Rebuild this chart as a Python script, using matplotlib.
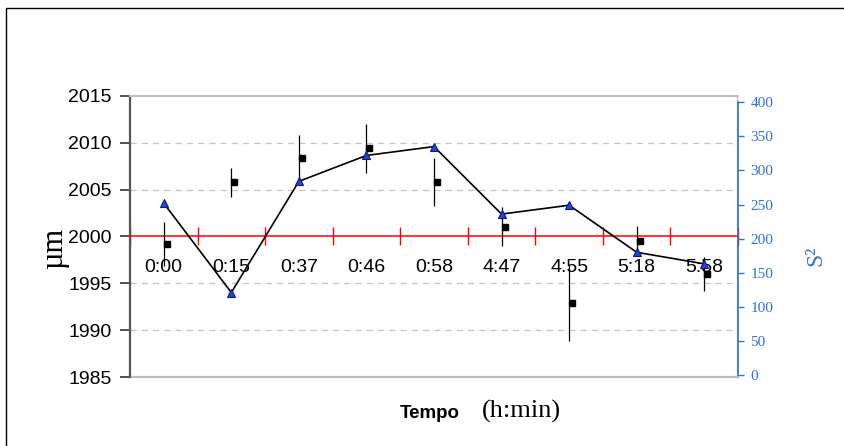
import numpy as np
import matplotlib
matplotlib.use('Agg')
import matplotlib.pyplot as plt
import matplotlib.patches as patches

# Data
times = ['0:00', '0:15', '0:37', '0:46', '0:58', '4:47', '4:55', '5:18', '5:58']
mean_um = [1999.2, 2005.8, 2008.4, 2009.4, 2005.8, 2001.05, 1992.9, 1999.5, 1996.0]
err_um = [2.4, 1.55, 2.4, 2.6, 2.55, 2.1, 4.1, 1.6, 1.8]
variance_s2 = [252, 121, 284, 322, 335, 236, 249, 180, 163]
left_ticks = [1985, 1990, 1995, 2000, 2005, 2010, 2015]
right_ticks = [0, 50, 100, 150, 200, 250, 300, 350, 400]

SANS = 'Liberation Sans'
SERIF = 'Liberation Serif'
BLUE_AX = '#2f72d0'
GRID_GRAY = '#c4c4c4'

fig = plt.figure(figsize=(8.45, 4.46), dpi=100)
ax = fig.add_axes([0.1538, 0.1547, 0.7196, 0.6301])
ax2 = ax.twinx()

x = np.arange(len(times))

# squares + error bars (left axis)
ax.errorbar(x, mean_um, yerr=err_um, fmt='none', ecolor='black',
            elinewidth=0.9, capsize=0, zorder=3)
ax.plot(x + 0.045, mean_um, 's', color='black', markersize=4.2, zorder=4)

ax.set_xlim(-0.5, len(times) - 0.5)
ax.set_ylim(1985, 2015)
ax.set_yticks(left_ticks)
ax.set_yticklabels([str(v) for v in left_ticks], fontfamily=SANS, fontsize=14)

# dashed grid, skip the 2000 line (red axis) and the borders
for v in left_ticks[1:-1]:
    if v != 2000:
        ax.axhline(v, color=GRID_GRAY, linestyle=(0, (5, 4)), linewidth=0.9, zorder=1)

# x axis sits on 2000 in red
ax.spines['bottom'].set_position(('data', 2000))
ax.spines['bottom'].set_color('red')
ax.spines['bottom'].set_linewidth(1.1)
ax.set_xticks(x)
ax.set_xticklabels(times, fontfamily=SANS, fontsize=14)
ax.tick_params(axis='x', which='major', length=0, pad=16)
ax.set_xticks(np.arange(-0.5, len(times)), minor=True)
ax.tick_params(axis='x', which='minor', direction='inout', length=13,
               color='red', width=1.0)

ax.spines['left'].set_color('#555555')
ax.spines['left'].set_linewidth(1.6)
ax.tick_params(axis='y', direction='out', length=7, width=1.2, color='#333333', pad=6)
ax.spines['top'].set_color('#bdbdbd')
ax.spines['top'].set_linewidth(1.4)
ax.spines['right'].set_visible(False)
ax.axhline(1985, color='#bdbdbd', linewidth=1.6, clip_on=False, zorder=2)
ax.axvline(len(times) - 0.5, color='#bdbdbd', linewidth=1.6, zorder=2)

ax.text(-0.124, 0.459, 'µm', transform=ax.transAxes, fontfamily=SERIF, fontsize=22,
        rotation=90, ha='center', va='center')

# triangles + line (right axis, S^2)
ax2.plot(x, variance_s2, '-', color='black', linewidth=1.2, zorder=3)
ax2.plot(x, variance_s2, '^', markerfacecolor='#2446d6', markeredgecolor='#0a1a80',
         markersize=6.0, markeredgewidth=0.8, linestyle='none', zorder=4)
ax2.set_ylim(-2.9, 409.2)
ax2.set_yticks(right_ticks)
ax2.set_yticklabels([str(v) for v in right_ticks], fontfamily=SERIF, fontsize=11,
                    color=BLUE_AX)
ax2.tick_params(axis='y', direction='out', length=4, width=1.0, color=BLUE_AX, pad=5)
ax2.spines['right'].set_color(BLUE_AX)
ax2.spines['right'].set_linewidth(1.2)
ax2.spines['right'].set_bounds(0, 400)
for side in ['top', 'bottom', 'left']:
    ax2.spines[side].set_visible(False)
ax2.text(1.128, 0.43, 'S²', transform=ax2.transAxes, fontfamily=SERIF, fontsize=17,
         color='#3b6fd4', rotation=90, ha='center', va='center')

# x axis title
fig.text(0.473, 0.0628, 'Tempo', fontfamily=SANS, fontweight='bold', fontsize=13.5,
         va='baseline')
fig.text(0.570, 0.0628, '(h:min)', fontfamily=SERIF, fontsize=19, va='baseline')

# outer chart border
fig.patches.append(patches.Rectangle((0.0071, -0.02), 1.1, 1.002, transform=fig.transFigure,
                                     fill=False, edgecolor='black', linewidth=1.0))

fig.savefig('out.png', dpi=100)
